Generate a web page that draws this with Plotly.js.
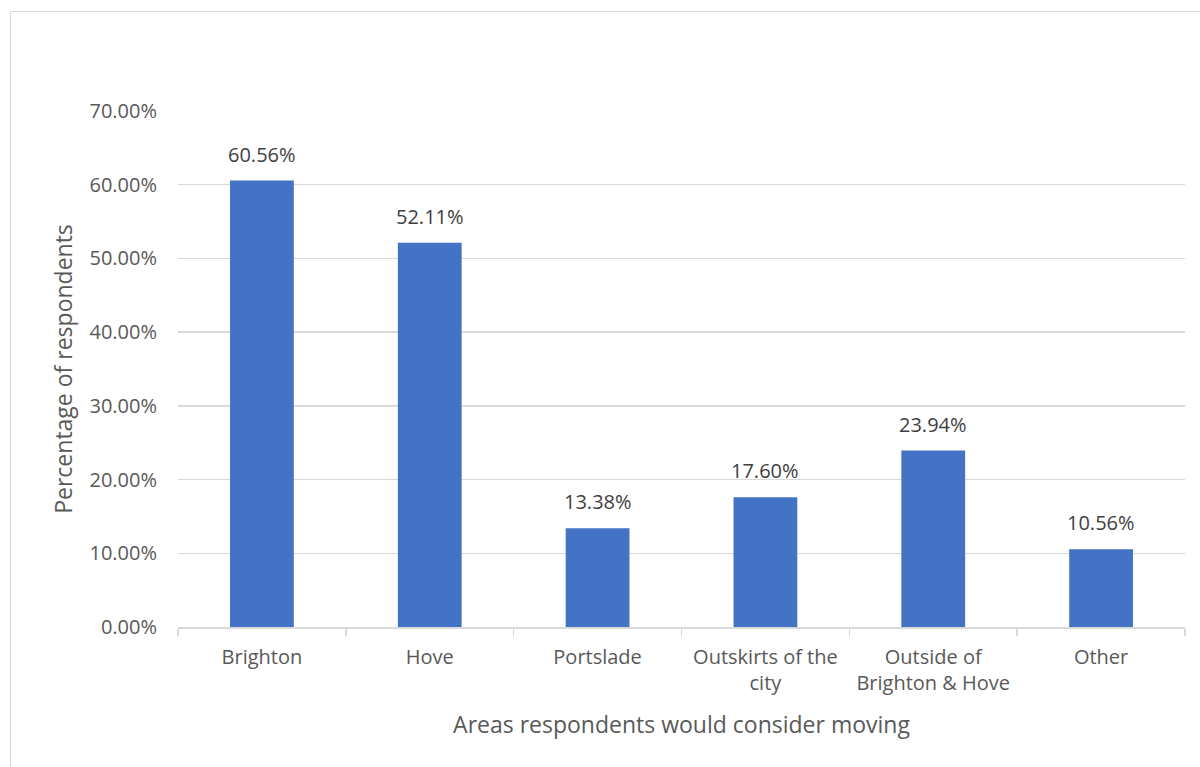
<!DOCTYPE html>
<html>
<head>
<meta charset="utf-8">
<script src="https://cdn.plot.ly/plotly-3.0.1.min.js"></script>
<style>
html, body { margin: 0; padding: 0; background: #fff; }
#wrap { position: relative; width: 1200px; height: 767px; overflow: hidden; }
#frame { position: absolute; left: 10px; top: 11px; width: 1300px; height: 900px; border: 1.5px solid #d9d9d9; box-sizing: border-box; pointer-events: none; }
#chart { position: absolute; left: 0; top: 0; width: 1200px; height: 767px; }
</style>
</head>
<body>
<div id="wrap">
  <div id="chart"></div>
  <div id="frame"></div>
</div>
<script>
const categories = ["Brighton", "Hove", "Portslade", "Outskirts of the<br>city", "Outside of<br>Brighton &amp; Hove", "Other"];
const values = [0.6056, 0.5211, 0.1338, 0.1760, 0.2394, 0.1056];
const labels = ["60.56%", "52.11%", "13.38%", "17.60%", "23.94%", "10.56%"];

const FONT = "'Open Sans', 'Noto Sans', sans-serif";
const TXT = "#595959";

const trace = {
  type: "bar",
  x: categories,
  y: values,
  marker: { color: "#4472C4" },
  hoverinfo: "skip"
};

const annotations = categories.map((c, i) => ({
  x: c, y: values[i], xref: "x", yref: "y",
  text: labels[i], showarrow: false,
  yanchor: "bottom", yshift: 11,
  font: { family: FONT, size: 20, color: "#404040" }
}));

const layout = {
  width: 1200, height: 767,
  margin: { l: 178, r: 15, t: 111, b: 140 },
  paper_bgcolor: "rgba(0,0,0,0)",
  plot_bgcolor: "rgba(0,0,0,0)",
  bargap: 0.62,
  showlegend: false,
  font: { family: FONT, color: TXT },
  xaxis: {
    type: "category",
    range: [-0.5, 5.5],
    showline: true, linecolor: "#d9d9d9", linewidth: 1.5,
    ticks: "outside", tickson: "boundaries", ticklen: 7, tickcolor: "#d9d9d9", tickwidth: 1.5,
    ticklabelstandoff: 11,
    showgrid: false,
    tickfont: { family: FONT, size: 20, color: TXT },
    title: { text: "Areas respondents would consider moving", font: { family: FONT, size: 23, color: TXT }, standoff: 22 },
    automargin: false
  },
  yaxis: {
    range: [0, 0.7],
    dtick: 0.1,
    tickformat: ".2%",
    showgrid: true, gridcolor: "#d9d9d9", gridwidth: 1.5,
    zeroline: false, showline: false,
    ticks: "", ticklabelstandoff: 20,
    tickfont: { family: FONT, size: 20, color: TXT },
    title: { text: "Percentage of respondents", font: { family: FONT, size: 23, color: TXT }, standoff: 10 },
    automargin: false
  },
  annotations: annotations
};

Plotly.newPlot("chart", [trace], layout, { displayModeBar: false, staticPlot: true });
</script>
</body>
</html>
